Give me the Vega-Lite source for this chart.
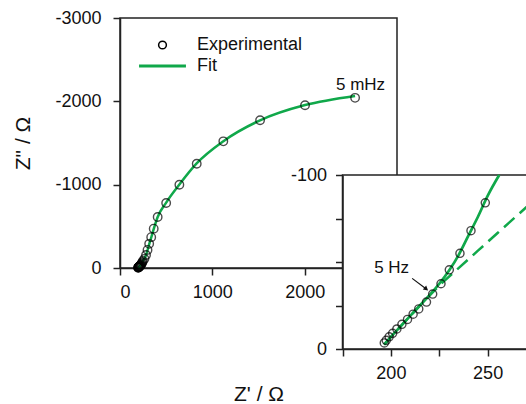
{
  "$schema": "https://vega.github.io/schema/vega-lite/v6.json",
  "width": 277,
  "height": 250,
  "autosize": {"type": "none"},
  "padding": {"left": 120, "top": 18, "right": 129, "bottom": 136},
  "background": "white",
  "config": {
    "font": "Liberation Sans",
    "view": {"stroke": "#222", "strokeWidth": 1.5},
    "axis": {
      "grid": false,
      "labelFont": "Liberation Sans",
      "labelFontSize": 18,
      "labelColor": "#111",
      "titleFont": "Liberation Sans",
      "titleFontSize": 21,
      "titleFontWeight": "normal",
      "titleColor": "#111",
      "domainColor": "#222",
      "domainWidth": 1.5,
      "tickColor": "#222",
      "tickWidth": 1.5,
      "tickSize": 7,
      "labelPadding": 8
    },
    "legend": {"labelFont": "Liberation Sans"}
  },
  "datasets": {
    "exp": [
      {"zr": 196.6, "zi": -3.5}, {"zr": 197.6, "zi": -5}, {"zr": 199.1, "zi": -7},
      {"zr": 200.9, "zi": -9}, {"zr": 203.1, "zi": -11.5}, {"zr": 205.7, "zi": -14.2},
      {"zr": 208.6, "zi": -17}, {"zr": 211.5, "zi": -20}, {"zr": 214.4, "zi": -23},
      {"zr": 218.4, "zi": -27}, {"zr": 221.6, "zi": -31.6}, {"zr": 225.9, "zi": -37.5},
      {"zr": 230.2, "zi": -45.5}, {"zr": 235.7, "zi": -55}, {"zr": 241.4, "zi": -68},
      {"zr": 248.8, "zi": -84}, {"zr": 265, "zi": -110}, {"zr": 282, "zi": -156},
      {"zr": 298, "zi": -217}, {"zr": 316, "zi": -290}, {"zr": 338, "zi": -370},
      {"zr": 365, "zi": -472}, {"zr": 408, "zi": -612}, {"zr": 500, "zi": -780},
      {"zr": 643, "zi": -999}, {"zr": 831, "zi": -1251}, {"zr": 1119, "zi": -1520},
      {"zr": 1517, "zi": -1773}, {"zr": 2004, "zi": -1953}, {"zr": 2546, "zi": -2042}
    ],
    "fitMain": [
      {"zr": 196.5, "zi": -2.5}, {"zr": 205, "zi": -13}, {"zr": 215, "zi": -25},
      {"zr": 225, "zi": -37.5}, {"zr": 235, "zi": -54}, {"zr": 245, "zi": -76},
      {"zr": 256, "zi": -100}, {"zr": 270, "zi": -125}, {"zr": 285, "zi": -165},
      {"zr": 300, "zi": -222}, {"zr": 318, "zi": -292}, {"zr": 340, "zi": -372},
      {"zr": 368, "zi": -478}, {"zr": 408, "zi": -612}, {"zr": 500, "zi": -785},
      {"zr": 643, "zi": -1002}, {"zr": 830, "zi": -1255}, {"zr": 1120, "zi": -1522},
      {"zr": 1517, "zi": -1772}, {"zr": 2004, "zi": -1955}, {"zr": 2546, "zi": -2065}
    ],
    "fitInset": [
      {"zr": 196.5, "zi": -2.5}, {"zr": 200, "zi": -7}, {"zr": 205, "zi": -13},
      {"zr": 210, "zi": -19}, {"zr": 215, "zi": -25}, {"zr": 220, "zi": -31},
      {"zr": 225, "zi": -37.5}, {"zr": 230, "zi": -45}, {"zr": 235, "zi": -54},
      {"zr": 240, "zi": -65}, {"zr": 245, "zi": -76}, {"zr": 250, "zi": -88},
      {"zr": 256, "zi": -100}
    ],
    "fitDashed": [
      {"zr": 196.5, "zi": -2.5}, {"zr": 205, "zi": -13}, {"zr": 215, "zi": -25},
      {"zr": 225, "zi": -36.5}, {"zr": 235, "zi": -46.5}, {"zr": 245, "zi": -56.5},
      {"zr": 255, "zi": -66.5}, {"zr": 265, "zi": -76.5}, {"zr": 272, "zi": -83.5}
    ],
    "insetFrame": [
      {"zr": 175, "zr2": 290, "zi": 0, "zi2": -100}
    ]
  },
  "layer": [
    {
      "encoding": {
        "x": {
          "field": "zr", "type": "quantitative",
          "scale": {"domain": [0, 3000], "nice": false, "zero": false},
          "axis": {"title": "Z' / Ω", "values": [0, 1000, 2000, 3000], "format": "d",
                   "titleY": 132, "titleBaseline": "alphabetic"}
        },
        "y": {
          "field": "zi", "type": "quantitative",
          "scale": {"domain": [0, -3000], "nice": false, "zero": false},
          "axis": {"title": "Z\" / Ω", "values": [0, -1000, -2000, -3000], "labelPadding": 12,
                   "labelExpr": "(datum.value < 0 ? '-' : '') + abs(datum.value)",
                   "titleX": -97, "titleY": 125, "titleAngle": 270, "titleBaseline": "middle"}
        }
      },
      "layer": [
        {
          "data": {"name": "fitMain"},
          "transform": [{"calculate": "'Fit'", "as": "series"}],
          "mark": {"type": "line", "interpolate": "monotone", "strokeWidth": 2.5},
          "encoding": {
            "stroke": {
              "field": "series", "type": "nominal",
              "scale": {"domain": ["Experimental", "Fit"], "range": ["#000000", "#10a84a"]},
              "legend": {
                "title": null, "orient": "none", "legendX": 33.5, "legendY": 18,
                "padding": 0, "labelFontSize": 18, "labelColor": "#111",
                "symbolSize": 64, "labelOffset": 25.5, "rowPadding": 3,
                "encode": {
                  "symbols": {
                    "update": {
                      "shape": {"signal": "datum.value === 'Fit' ? 'stroke' : 'circle'"},
                      "size": {"signal": "datum.value === 'Fit' ? 2200 : 60"},
                      "strokeWidth": {"signal": "datum.value === 'Fit' ? 3 : 1.5"},
                      "fill": {"value": "transparent"}
                    }
                  }
                }
              }
            }
          }
        },
        {
          "data": {"name": "exp"},
          "transform": [{"calculate": "'Experimental'", "as": "series"}],
          "mark": {"type": "point", "shape": "circle", "filled": false, "size": 72, "strokeWidth": 1.4},
          "encoding": {"stroke": {"field": "series", "type": "nominal"}}
        },
        {
          "data": {"values": [{"zr": 2605, "zi": -2200, "label": "5 mHz"}]},
          "mark": {"type": "text", "fontSize": 17, "font": "Liberation Sans", "color": "#111", "baseline": "middle", "align": "center"},
          "encoding": {"text": {"field": "label"}}
        }
      ]
    },
    {
      "encoding": {
        "x": {
          "field": "zr", "type": "quantitative",
          "scale": {"domain": [175, 275], "range": [222.5, 416], "nice": false, "zero": false},
          "axis": {"title": null, "orient": "bottom", "offset": 81, "zindex": 1,
                   "values": [175, 200, 225, 250, 275],
                   "labelExpr": "datum.value % 50 === 0 ? '' + datum.value : ''"}
        },
        "y": {
          "field": "zi", "type": "quantitative",
          "scale": {"domain": [0, -100], "range": [331, 157], "nice": false, "zero": false},
          "axis": {"title": null, "orient": "left", "offset": -222.5, "zindex": 1,
                   "values": [0, -25, -50, -75, -100], "labelPadding": 9,
                   "labelExpr": "datum.value === 0 ? '0' : (datum.value === -100 ? '-100' : '')"}
        }
      },
      "layer": [
        {
          "data": {"name": "insetFrame"},
          "mark": {"type": "rect", "fill": "white", "stroke": "#222", "strokeWidth": 1.5},
          "encoding": {
            "x2": {"field": "zr2"},
            "y2": {"field": "zi2"}
          }
        },
        {
          "data": {"name": "fitDashed"},
          "mark": {"type": "line", "color": "#10a84a", "strokeWidth": 2.5, "strokeDash": [14, 7]}
        },
        {
          "data": {"name": "fitInset"},
          "mark": {"type": "line", "color": "#10a84a", "strokeWidth": 2.7, "interpolate": "monotone"}
        },
        {
          "data": {"name": "exp"},
          "transform": [{"filter": "datum.zi >= -100"}],
          "mark": {"type": "point", "shape": "circle", "filled": false, "size": 66, "strokeWidth": 1.4, "color": "#000"}
        },
        {
          "data": {"values": [{"zr": 211, "zi": -40.6, "zr2": 217.6, "zi2": -35.1}]},
          "mark": {"type": "rule", "color": "#111", "strokeWidth": 1.2},
          "encoding": {"x2": {"field": "zr2"}, "y2": {"field": "zi2"}}
        },
        {
          "data": {"values": [{"zr": 218.3, "zi": -34.5}]},
          "mark": {"type": "point", "shape": "triangle-right", "filled": true, "color": "#111", "size": 28, "angle": 39, "opacity": 1}
        },
        {
          "data": {"values": [{"zr": 200.4, "zi": -46.4, "label": "5 Hz"}]},
          "mark": {"type": "text", "fontSize": 17, "font": "Liberation Sans", "color": "#111", "baseline": "middle", "align": "center"},
          "encoding": {"text": {"field": "label"}}
        }
      ]
    }
  ],
  "resolve": {
    "scale": {"x": "independent", "y": "independent"},
    "axis": {"x": "independent", "y": "independent"}
  }
}
